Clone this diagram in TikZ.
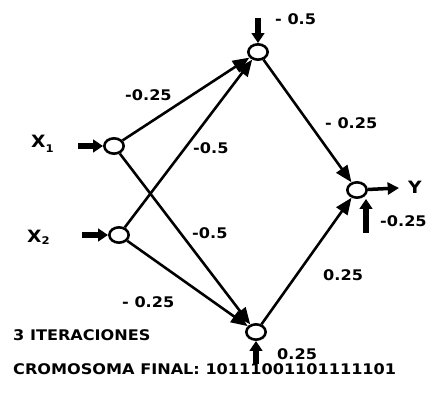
\documentclass[tikz,border=0pt]{standalone}
\usepackage{fontspec}
\setmainfont{DejaVu Sans}[FakeStretch=1.1]
\usetikzlibrary{arrows.meta,shapes.geometric}

\begin{document}
\begin{tikzpicture}[x=0.03cm,y=-0.03cm,font=\bfseries\fontsize{12.5}{15}\selectfont,
  nd/.style={draw,ellipse,line width=2.2pt,minimum width=0.58cm,minimum height=0.46cm,inner sep=0pt,fill=white},
  w/.style={line width=2.2pt,-{Triangle[length=5mm,width=4mm]}},
  fat/.style={line width=4.5pt,-{Triangle[length=3mm,width=3.8mm]}},
  lbl/.style={inner sep=0pt,anchor=west},
  var/.style={lbl,font=\bfseries\fontsize{14.5}{16}\selectfont}]
  \useasboundingbox (0,0) rectangle (437,398);
  % neuronas
  \node[nd](x1) at (114,146){};\node[nd](x2) at (119,235){};
  \node[nd](h1) at (258,52){};\node[nd](h2) at (256,332){};
  \node[nd](y) at (357,190){};
  % pesos
  \draw[w](x1)--(h1);\draw[w](x2)--(h1);\draw[w](x1)--(h2);\draw[w](x2)--(h2);
  \draw[w](h1)--(y);\draw[w](h2)--(y);
  % entradas, umbrales y salida
  \coordinate(e1) at (78,146);\coordinate(e2) at (82,235);
  \coordinate(b1) at (258,18);\coordinate(b2) at (256,364);\coordinate(b3) at (366,233);
  \coordinate(s) at (399,188);
  \draw[fat](e1)--(x1);\draw[fat](e2)--(x2);
  \draw[fat](b1)--(h1);\draw[fat](b2)--(h2);\draw[fat](b3)--(b3|-y.south);
  \draw[line width=3pt,-{Triangle[length=3.4mm,width=3.6mm]}](y)--(s);
  % textos
  \node[var](tx1) at (31,144){X\raisebox{-0.55ex}{\small 1}};
  \node[var](tx2) at (27,237){X\raisebox{-0.25ex}{\small 2}};
  \node[var](ty) at (408,187){Y};
  \node[lbl](p1) at (125,95){-0.25};\node[lbl](p2) at (193,148){-0.5};
  \node[lbl](p3) at (192,233){-0.5};\node[lbl](p4) at (122,302){- 0.25};
  \node[lbl](p5) at (325,123){- 0.25};\node[lbl](p6) at (323,275){0.25};
  \node[lbl](u1) at (275,19){- 0.5};\node[lbl](u2) at (277,354){0.25};
  \node[lbl](u3) at (380,221){-0.25};
  \node[lbl](it) at (13,335){3 ITERACIONES};
  \node[lbl](cr) at (13,369){CROMOSOMA FINAL: 10111001101111101};
\end{tikzpicture}
\end{document}
